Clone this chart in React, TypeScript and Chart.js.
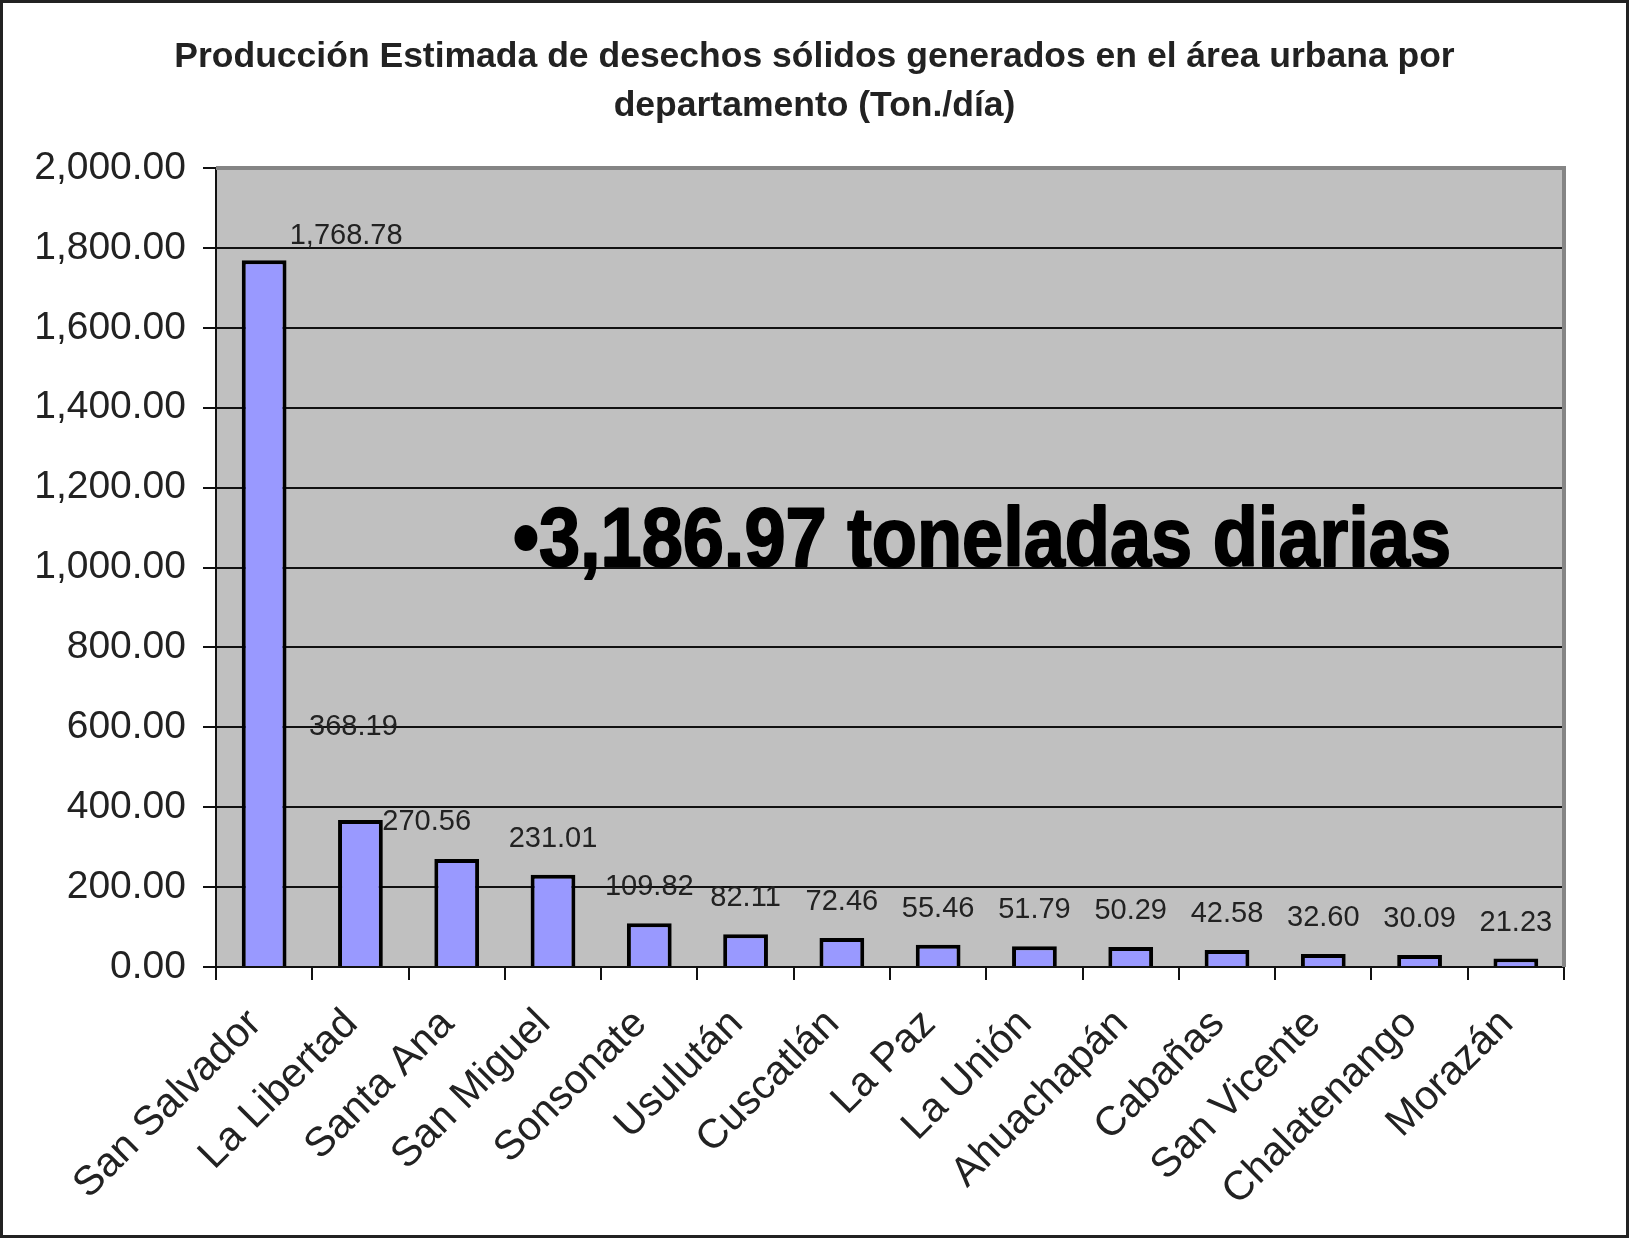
import React, { useEffect, useRef } from 'react';
import { Chart, registerables } from 'chart.js';

Chart.register(...registerables);

const titleLines = [
  'Producción Estimada de desechos sólidos generados en el área urbana por',
  'departamento (Ton./día)',
];
const departments = [
  'San Salvador', 'La Libertad', 'Santa Ana', 'San Miguel', 'Sonsonate', 'Usulután', 'Cuscatlán',
  'La Paz', 'La Unión', 'Ahuachapán', 'Cabañas', 'San Vicente', 'Chalatenango', 'Morazán',
];
const tonsPerDay = [
  1768.78, 368.19, 270.56, 231.01, 109.82, 82.11, 72.46,
  55.46, 51.79, 50.29, 42.58, 32.6, 30.09, 21.23,
];
const yMin = 0;
const yMax = 2000;
const yStep = 200;
const totalNote = '•3,186.97 toneladas diarias';

const FONT = '"Liberation Sans", Arial, Helvetica, sans-serif';
const fmt = (v: number) =>
  Number(v).toLocaleString('en-US', { minimumFractionDigits: 2, maximumFractionDigits: 2 });

const decorPlugin = {
  id: 'decor',
  beforeDraw(chart: any) {
    const { ctx, width, height, chartArea: a } = chart;
    ctx.save();
    ctx.fillStyle = '#ffffff';
    ctx.fillRect(0, 0, width, height);
    ctx.fillStyle = '#c0c0c0';
    ctx.fillRect(a.left, a.top, a.right - a.left, a.bottom - a.top);
    ctx.restore();
  },
  beforeDatasetsDraw(chart: any) {
    const { ctx, chartArea: a } = chart;
    ctx.save();
    ctx.strokeStyle = '#858585';
    ctx.lineWidth = 4;
    ctx.beginPath();
    ctx.moveTo(a.left, a.top);
    ctx.lineTo(a.right, a.top);
    ctx.lineTo(a.right, a.bottom);
    ctx.stroke();
    ctx.restore();
  },
  afterDatasetsDraw(chart: any, _args: any, opts: any) {
    const { ctx } = chart;
    const meta = chart.getDatasetMeta(0);
    ctx.save();
    ctx.fillStyle = '#222';
    ctx.font = `29px ${FONT}`;
    ctx.textAlign = 'center';
    ctx.textBaseline = 'middle';
    meta.data.forEach((bar: any, i: number) => {
      const n = opts.nudges[i] || [0, 0];
      ctx.fillText(fmt(tonsPerDay[i]), bar.x + n[0], bar.y - 36 + n[1]);
    });
    ctx.restore();

    // big note
    const a = chart.chartArea;
    const yBase = chart.scales.y.getPixelForValue(1000) - 2;
    ctx.save();
    ctx.fillStyle = '#000';
    ctx.strokeStyle = '#000';
    ctx.lineWidth = 2;
    ctx.lineJoin = 'round';
    ctx.font = `bold 84px ${FONT}`;
    ctx.textAlign = 'left';
    ctx.textBaseline = 'alphabetic';
    const w = ctx.measureText(totalNote).width;
    ctx.translate(a.left + 297, yBase);
    ctx.scale(opts.noteWidth / w, 1);
    ctx.fillText(totalNote, 0, 0);
    ctx.strokeText(totalNote, 0, 0);
    ctx.restore();
  },
  afterDraw(chart: any) {
    const { ctx, width, height } = chart;
    ctx.save();
    ctx.strokeStyle = '#222';
    ctx.lineWidth = 3;
    ctx.strokeRect(1.5, 1.5, width - 3, height - 3);
    ctx.restore();
  },
};

export default function App() {
  const ref = useRef<HTMLCanvasElement>(null);
  useEffect(() => {
    document.body.style.margin = '0';
    const chart = new Chart(ref.current as HTMLCanvasElement, {
      type: 'bar',
      data: {
        labels: departments,
        datasets: [
          {
            data: tonsPerDay,
            backgroundColor: '#9999ff',
            borderColor: '#000000',
            borderWidth: 4,
            barPercentage: 0.465,
            categoryPercentage: 1,
            yAxisID: 'y',
          },
        ],
      },
      plugins: [decorPlugin],
      options: {
        responsive: false,
        animation: false,
        layout: { padding: { left: 0, right: 0, top: 0, bottom: 0 } },
        plugins: {
          legend: { display: false },
          tooltip: { enabled: false },
          title: {
            display: true,
            text: titleLines,
            color: '#222',
            font: { family: FONT, size: 35.5, weight: 'bold', lineHeight: 49 / 35.5 },
            padding: { top: 33, bottom: 37 },
          },
          decor: {
            nudges: { 0: [82, 12], 1: [-7, -57], 2: [-30, -1] },
            noteWidth: 938,
          },
        } as any,
        scales: {
          x: {
            offset: true,
            grid: {
              offset: true,
              drawOnChartArea: false,
              drawTicks: true,
              tickLength: 13,
              color: '#111',
              lineWidth: 2,
            },
            border: { display: true, color: '#111', width: 2 },
            ticks: {
              autoSkip: false,
              maxRotation: 45,
              minRotation: 45,
              padding: 20,
              labelOffset: -9,
              color: '#222',
              font: { family: FONT, size: 41 },
            },
            afterFit: (s: any) => {
              s.height = 271;
            },
          },
          y: {
            min: yMin,
            max: yMax,
            ticks: {
              stepSize: yStep,
              padding: 17,
              color: '#222',
              font: { family: FONT, size: 39 },
              callback: (v: any) => fmt(v),
            },
            grid: { color: '#111', lineWidth: 2, tickLength: 13, drawTicks: true },
            border: { display: true, color: '#111', width: 2 },
            afterFit: (s: any) => {
              s.width = 216;
            },
          },
          yRight: {
            position: 'right',
            display: true,
            grid: { display: false, drawTicks: false },
            border: { display: false },
            ticks: { display: false },
            afterFit: (s: any) => {
              s.width = 65;
            },
          },
        } as any,
      },
    });
    return () => chart.destroy();
  }, []);
  return (
    <div style={{ position: 'fixed', left: 0, top: 0, width: 1629, height: 1238, background: '#fff' }}>
      <canvas ref={ref} width={1629} height={1238} style={{ width: 1629, height: 1238, display: 'block' }} />
    </div>
  );
}
